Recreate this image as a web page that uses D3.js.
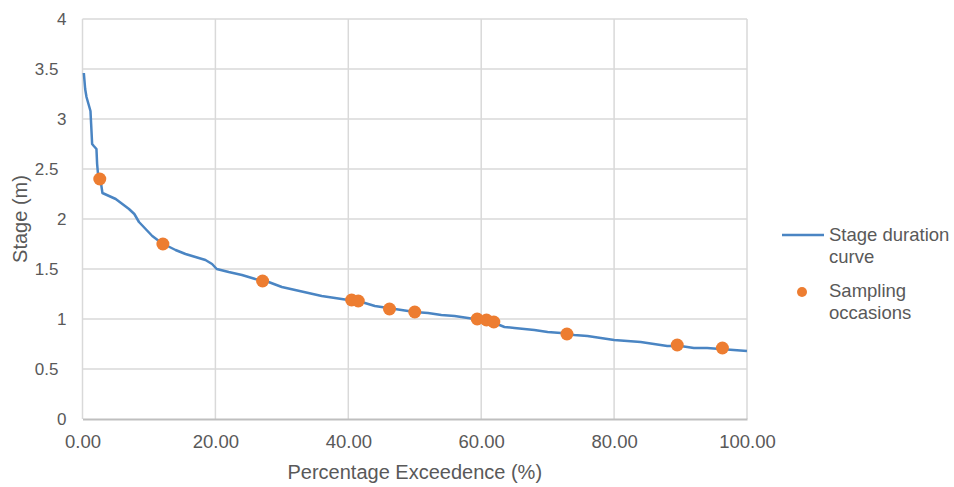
<!DOCTYPE html>
<html>
<head>
<meta charset="utf-8">
<script src="https://cdn.jsdelivr.net/npm/d3@7"></script>
<style>
  body { margin: 0; background: #fff; }
  svg { font-family: "Liberation Sans", Arial, sans-serif; display: block; }
</style>
</head>
<body>
<div id="container"></div>
<script>
const width = 954;
const height = 487;
const marginTop = 19;
const marginLeft = 82.5;
const plotRight = 747;
const plotBottom = 419;

// stage duration curve (percentage exceedence, stage m)
const curvePct = [0.2, 0.4, 0.6, 0.9, 1.2, 1.3, 1.45, 1.7, 2.1, 2.2, 2.4, 2.8, 3.0, 4.0, 5.0, 6.0, 7.0, 7.8, 8.5, 9.5,
  10.5, 11.5, 12.5, 14.0, 15.5, 17.0, 18.5, 19.5, 20.2, 22.0, 24.0, 26.0, 28.0, 30.0, 32.0, 34.0, 36.0, 38.0, 40.0,
  42.0, 44.0, 46.0, 48.0, 50.0, 52.0, 54.0, 56.0, 58.0, 60.0, 62.0, 63.5, 65.0, 68.0, 70.0, 72.0, 74.0, 76.0, 78.0,
  80.0, 82.0, 84.0, 86.0, 88.0, 90.0, 92.0, 94.0, 96.0, 98.0, 100.0];
const curveStage = [3.46, 3.30, 3.22, 3.15, 3.08, 2.95, 2.75, 2.73, 2.70, 2.55, 2.40, 2.35, 2.26, 2.23, 2.20, 2.15, 2.10, 2.05, 1.97, 1.90,
  1.83, 1.78, 1.74, 1.69, 1.65, 1.62, 1.59, 1.55, 1.50, 1.47, 1.44, 1.40, 1.37, 1.32, 1.29, 1.26, 1.23, 1.21, 1.19,
  1.17, 1.13, 1.11, 1.09, 1.07, 1.06, 1.04, 1.03, 1.01, 0.99, 0.96, 0.92, 0.91, 0.89, 0.87, 0.86, 0.84, 0.83, 0.81,
  0.79, 0.78, 0.77, 0.75, 0.73, 0.73, 0.71, 0.71, 0.70, 0.69, 0.68];

// sampling occasions
const samplePct = [2.6, 12.1, 27.1, 40.5, 41.5, 46.2, 50.0, 59.4, 60.8, 61.9, 72.9, 89.5, 96.3];
const sampleStage = [2.40, 1.75, 1.38, 1.19, 1.18, 1.10, 1.07, 1.00, 0.99, 0.97, 0.85, 0.74, 0.71];

const xTicks = [0, 20, 40, 60, 80, 100];
const yTicks = [0, 0.5, 1, 1.5, 2, 2.5, 3, 3.5, 4];

const textColor = "#595959";

const x = d3.scaleLinear().domain([0, 100]).range([marginLeft, plotRight]);
const y = d3.scaleLinear().domain([0, 4]).range([plotBottom, marginTop]);

const svg = d3.create("svg")
  .attr("width", width)
  .attr("height", height)
  .attr("viewBox", [0, 0, width, height]);

// horizontal gridlines
svg.append("g")
  .selectAll("line")
  .data(yTicks.filter(d => d > 0))
  .join("line")
    .attr("x1", marginLeft).attr("x2", plotRight)
    .attr("y1", d => y(d)).attr("y2", d => y(d))
    .attr("stroke", "#d9d9d9")
    .attr("stroke-width", 1.5);

// vertical gridlines
svg.append("g")
  .selectAll("line")
  .data(xTicks)
  .join("line")
    .attr("x1", d => x(d)).attr("x2", d => x(d))
    .attr("y1", marginTop).attr("y2", plotBottom)
    .attr("stroke", "#d9d9d9")
    .attr("stroke-width", 1.5);

// bottom axis
svg.append("g")
  .attr("transform", `translate(0,${plotBottom})`)
  .call(d3.axisBottom(x).tickValues(xTicks).tickFormat(d3.format(".2f")).tickSize(0).tickPadding(16))
  .call(g => g.select(".domain").attr("stroke", "#bfbfbf").attr("stroke-width", 1.8))
  .call(g => g.selectAll("text")
    .attr("fill", textColor)
    .attr("font-size", 18.5)
    .attr("font-family", "Liberation Sans, Arial, sans-serif"));

// left axis
svg.append("g")
  .attr("transform", `translate(${marginLeft},0)`)
  .call(d3.axisLeft(y).tickValues(yTicks).tickFormat(d => String(d)).tickSize(0).tickPadding(16))
  .call(g => g.select(".domain").remove())
  .call(g => g.selectAll("text")
    .attr("fill", textColor)
    .attr("font-size", 17)
    .attr("font-family", "Liberation Sans, Arial, sans-serif")
    .attr("dx", d => Number.isInteger(d) ? 0 : -8));

const line = d3.line()
  .x(i => x(curvePct[i]))
  .y(i => y(curveStage[i]));

svg.append("path")
  .attr("d", line(d3.range(curvePct.length)))
  .attr("fill", "none")
  .attr("stroke", "#4a85c3")
  .attr("stroke-width", 2.5)
  .attr("stroke-linejoin", "round");

svg.append("g")
  .selectAll("circle")
  .data(d3.range(samplePct.length))
  .join("circle")
    .attr("cx", i => x(samplePct[i]))
    .attr("cy", i => y(sampleStage[i]))
    .attr("r", 6.5)
    .attr("fill", "#ed7d31");

// axis titles
svg.append("text")
  .attr("x", (marginLeft + plotRight) / 2)
  .attr("y", 479)
  .attr("text-anchor", "middle")
  .attr("font-size", 20)
  .attr("fill", textColor)
  .text("Percentage Exceedence (%)");

svg.append("text")
  .attr("transform", `translate(27,${(marginTop + plotBottom) / 2}) rotate(-90)`)
  .attr("text-anchor", "middle")
  .attr("font-size", 20)
  .attr("fill", textColor)
  .text("Stage (m)");

// legend
const legend = svg.append("g").attr("fill", textColor).attr("font-size", 18.5);
legend.append("line")
  .attr("x1", 782).attr("x2", 824)
  .attr("y1", 235).attr("y2", 235)
  .attr("stroke", "#4a85c3")
  .attr("stroke-width", 2.5);
legend.append("text").attr("x", 829).attr("y", 241).text("Stage duration");
legend.append("text").attr("x", 829).attr("y", 263).text("curve");
legend.append("circle")
  .attr("cx", 802).attr("cy", 292).attr("r", 5).attr("fill", "#ed7d31");
legend.append("text").attr("x", 829).attr("y", 297).text("Sampling");
legend.append("text").attr("x", 829).attr("y", 319).text("occasions");

document.getElementById("container").appendChild(svg.node());
</script>
</body>
</html>
